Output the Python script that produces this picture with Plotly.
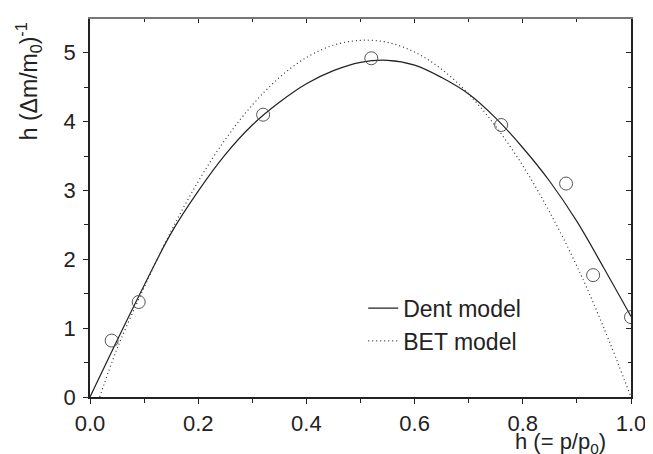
import plotly.graph_objects as go

# Measured data points (open circles)
h_data = [0.04, 0.09, 0.32, 0.52, 0.76, 0.88, 0.93, 1.00]
y_data = [0.82, 1.38, 4.10, 4.92, 3.95, 3.10, 1.77, 1.16]

# Dent model curve
h_dent = [0.0, 0.05, 0.10, 0.15, 0.20, 0.25, 0.30, 0.35, 0.40, 0.45, 0.50,
          0.55, 0.60, 0.65, 0.70, 0.75, 0.80, 0.85, 0.90, 0.95, 1.00]
y_dent = [0.0, 0.82, 1.62, 2.38, 2.99, 3.52, 3.95, 4.28, 4.55, 4.74, 4.86,
          4.89, 4.82, 4.64, 4.40, 4.05, 3.62, 3.13, 2.55, 1.87, 1.17]

# BET model curve
h_bet = [0.018, 0.05, 0.10, 0.15, 0.20, 0.25, 0.30, 0.35, 0.40, 0.45, 0.50,
         0.55, 0.60, 0.65, 0.70, 0.75, 0.80, 0.85, 0.90, 0.95, 1.00]
y_bet = [0.0, 0.70, 1.59, 2.41, 3.13, 3.74, 4.24, 4.64, 4.93, 5.11, 5.18,
         5.15, 5.01, 4.76, 4.40, 3.93, 3.36, 2.68, 1.90, 1.00, 0.0]

x_range = [0.0, 1.0]
y_range = [0.0, 5.49]

FONT = "Liberation Sans, Arial, sans-serif"
INK = "#222222"

fig = go.Figure()
fig.add_trace(go.Scatter(x=h_dent, y=y_dent, mode="lines", name="Dent model",
                         line=dict(color=INK, width=1.2, shape="spline")))
fig.add_trace(go.Scatter(x=h_bet, y=y_bet, mode="lines", name="BET model",
                         line=dict(color="#333333", width=1.2, dash="1px,3px",
                                   shape="spline")))
fig.add_trace(go.Scatter(x=h_data, y=y_data, mode="markers", showlegend=False,
                         marker=dict(symbol="circle-open", size=13,
                                     color="#555555", line=dict(width=1))))
# invisible trace to carry the mirrored (top/right) axes
fig.add_trace(go.Scatter(x=[None], y=[None], xaxis="x2", yaxis="y2",
                         showlegend=False, hoverinfo="skip"))

fig.update_layout(
    width=653, height=454,
    margin=dict(l=82, r=30, t=11, b=65),
    paper_bgcolor="white", plot_bgcolor="white",
    font=dict(family=FONT, size=22, color=INK),
    showlegend=True,
    legend=dict(x=0.505, y=0.292, xanchor="left", yanchor="top",
                bgcolor="rgba(0,0,0,0)", borderwidth=0,
                font=dict(family=FONT, size=23, color=INK),
                tracegroupgap=0),
    xaxis=dict(range=x_range, dtick=0.2, tick0=0, tickformat=".1f",
               showgrid=False, zeroline=False,
               showline=True, linecolor="#222", linewidth=1.5,
               ticks="outside", ticklen=5, tickwidth=1.2, tickcolor="#222",
               minor=dict(dtick=0.1, ticks="outside", ticklen=4,
                          tickwidth=1.2, tickcolor="#222"),
               ticklabelstandoff=1),
    yaxis=dict(range=y_range, dtick=1, tick0=0,
               showgrid=False, zeroline=False,
               showline=True, linecolor="#222", linewidth=1.5,
               ticks="outside", ticklen=5, tickwidth=1.2, tickcolor="#222",
               minor=dict(dtick=0.5, ticks="outside", ticklen=4,
                          tickwidth=1.2, tickcolor="#222"),
               ticklabelstandoff=3),
    xaxis2=dict(range=x_range, overlaying="x", side="top", anchor="y",
                dtick=0.2, tick0=0, showticklabels=False, showgrid=False,
                zeroline=False, showline=True, linecolor="#777", linewidth=1.5,
                ticks="inside", ticklen=4, tickwidth=1.2, tickcolor="#222",
                minor=dict(dtick=0.1, ticks="inside", ticklen=3,
                           tickwidth=1.2, tickcolor="#222")),
    yaxis2=dict(range=y_range, overlaying="y", side="right", anchor="x",
                dtick=1, tick0=0, showticklabels=False, showgrid=False,
                zeroline=False, showline=True, linecolor="#222", linewidth=1.5,
                ticks="inside", ticklen=5, tickwidth=1.2, tickcolor="#222",
                minor=dict(dtick=0.5, ticks="inside", ticklen=3,
                           tickwidth=1.2, tickcolor="#222")),
    annotations=[
        dict(text="h (\u0394m/m<sub>0</sub>)<sup>-1</sup>", textangle=-90,
             xref="paper", yref="paper", x=-0.113, y=0.835,
             xanchor="center", yanchor="middle", showarrow=False,
             font=dict(family=FONT, size=23, color=INK)),
        dict(text="h (= p/p<sub>0</sub>)",
             xref="paper", yref="paper", x=0.9575, y=-0.122,
             xanchor="right", yanchor="middle", showarrow=False,
             font=dict(family=FONT, size=22, color=INK)),
    ],
)

fig.write_html("out.html")
